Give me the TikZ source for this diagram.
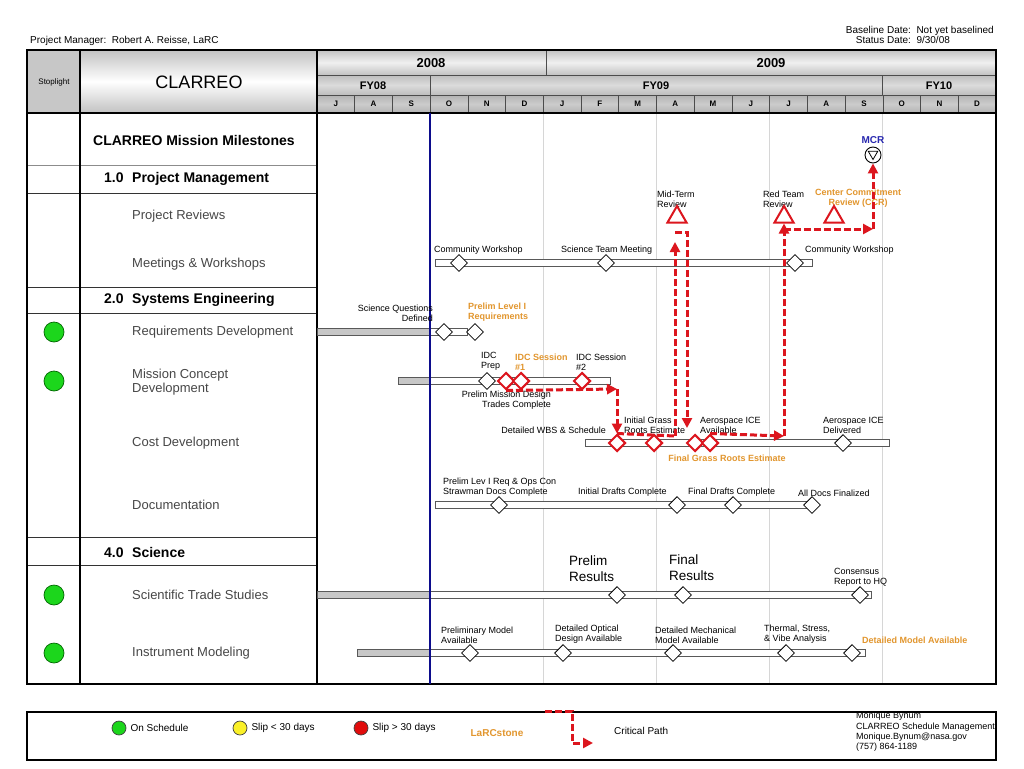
\documentclass[tikz,border=0pt]{standalone}
\usepackage{fontspec}
\setmainfont{Liberation Sans}
\usetikzlibrary{positioning, arrows.meta, shapes.geometric}

\definecolor{cpred}{RGB}{220,22,30}
\definecolor{larc}{RGB}{226,150,46}
\definecolor{statusblue}{RGB}{12,12,140}
\definecolor{mcrblue}{RGB}{40,40,175}
\definecolor{ongreen}{RGB}{28,214,28}
\definecolor{slipyellow}{RGB}{250,240,40}
\definecolor{slipred}{RGB}{225,12,12}

\tikzset{
    tbl/.style={draw=black, line width=1.4pt},
    rowline/.style={draw=black!80, line width=0.9pt},
    hdr/.style={draw=black!70, line width=0.6pt,
        top color=black!24, bottom color=black!24, middle color=black!6},
    hdrtxt/.style={font=\fontsize{13}{14}\selectfont\bfseries, inner sep=0pt},
    fytxt/.style={font=\fontsize{11}{12}\selectfont\bfseries, inner sep=0pt},
    montxt/.style={font=\fontsize{8}{9}\selectfont\bfseries, inner sep=0pt},
    sect/.style={font=\fontsize{14}{16}\selectfont\bfseries, anchor=west, inner sep=0pt},
    item/.style={font=\fontsize{13}{14.5}\selectfont, text=black!72,
        anchor=west, inner sep=0pt, align=left},
    light/.style={circle, draw=green!40!black, line width=0.7pt, fill=ongreen,
        minimum size=20pt, inner sep=0pt},
    dot/.style={circle, draw=black!75, line width=0.7pt, minimum size=14pt, inner sep=0pt},
    bar/.style={draw=black!65, line width=0.9pt, fill=white},
    donebar/.style={draw=black!65, line width=0.9pt, fill=black!22},
    gridline/.style={draw=black!16, line width=0.6pt},
    mstone/.style={diamond, draw=black, line width=0.8pt, fill=white,
        inner sep=0pt, minimum width=17pt, minimum height=17pt},
    cpstone/.style={mstone, draw=cpred, line width=2pt},
    review/.style={regular polygon, regular polygon sides=3, draw=cpred,
        line width=2pt, fill=white, inner sep=0pt, minimum size=22pt},
    lbl/.style={font=\fontsize{9}{10}\selectfont, inner sep=0pt, align=left,
        anchor=south west},
    lblo/.style={lbl, font=\fontsize{9}{10}\selectfont\bfseries, text=larc},
    bigl/.style={lbl, font=\fontsize{13.5}{16}\selectfont},
    note/.style={font=\fontsize{10}{12}\selectfont, inner sep=0pt},
    cp/.style={draw=cpred, line width=3pt, dash pattern=on 7pt off 3pt,
        -{Triangle[length=10pt, width=10pt]}},
    cpline/.style={draw=cpred, line width=3pt, dash pattern=on 7pt off 3pt},
}

\begin{document}
\begin{tikzpicture}[x=1pt, y=-1pt]
\useasboundingbox (0,0) rectangle (1024,768);
\fill[white] (0,0) rectangle (1024,768);

% ---- Top notes ----
\node[note, anchor=base west] (pm) at (30,44) {Project Manager:\ \ Robert A. Reisse, LaRC};
\node[note, anchor=north east] (dates) at (994,25)
    {\begin{tabular}{@{}r@{\ \ }l@{}}Baseline Date: & Not yet baselined\\[-2pt]
     Status Date: & 9/30/08\end{tabular}};

% ---- Header ----
\draw[hdr, fill=black!22, top color=black!22, bottom color=black!22, middle color=black!22]
    (27,50) rectangle (80,113);
\node[font=\fontsize{8}{9}\selectfont, inner sep=0pt] (stop) at (54,82) {Stoplight};
\draw[hdr, middle color=white] (80,50) rectangle (317,113);
\node[font=\fontsize{18}{20}\selectfont, inner sep=0pt] (title) at (199,82) {CLARREO};
\draw[hdr] (317,50) rectangle (546,75);
\draw[hdr] (546,50) rectangle (996,75);
\node[hdrtxt] (y08) at (431,63) {2008};
\node[hdrtxt] (y09) at (771,63) {2009};
\draw[hdr, top color=black!26, bottom color=black!26, middle color=black!14] (317,75) rectangle (430.1,95);
\draw[hdr, top color=black!26, bottom color=black!26, middle color=black!14] (430.1,75) rectangle (882.5,95);
\draw[hdr, top color=black!26, bottom color=black!26, middle color=black!14] (882.5,75) rectangle (996,95);
\node[fytxt] (fy08) at (373,86) {FY08};
\node[fytxt] (fy09) at (656,86) {FY09};
\node[fytxt] (fy10) at (939,86) {FY10};
\foreach \m [count=\i from 0] in {J,A,S,O,N,D,J,F,M,A,M,J,J,A,S,O,N,D} {
    \draw[hdr, top color=black!30, bottom color=black!30, middle color=black!20]
        ({317+\i*37.72},95) rectangle ({317+(\i+1)*37.72},113);
    \node[montxt] (m\i) at ({317+(\i+0.5)*37.72},104) {\m};
}

% ---- Grid and frame ----
\foreach \gx in {543.2,656.3,769.4,882.5}
    \draw[gridline] (\gx,113) -- (\gx,684);
\draw[rowline, draw=black!45, line width=0.6pt] (27,165) -- (317,165);
\foreach \yy in {193,287,313,537,565}
    \draw[rowline] (27,\yy) -- (317,\yy);
\draw[tbl] (80,50) -- (80,684);
\draw[tbl] (317,50) -- (317,684);
\draw[tbl] (27,113) -- (996,113);
\draw[tbl] (27,50) rectangle (996,684);

% ---- Row titles ----
\node[sect] (t-ms) at (93,140) {CLARREO Mission Milestones};
\node[sect] (t-pm) at (104,179) {\makebox[28pt][l]{1.0}Project Management};
\node[item] (t-rev) at (132,216) {Project Reviews};
\node[item] (t-mw) at (132,264) {Meetings \& Workshops};
\node[sect] (t-se) at (104,300) {\makebox[28pt][l]{2.0}Systems Engineering};
\node[item] (t-rq) at (132,332) {Requirements Development};
\node[item] (t-mc) at (132,382) {Mission Concept\\Development};
\node[item] (t-cd) at (132,443) {Cost Development};
\node[item] (t-dc) at (132,505) {Documentation};
\node[sect] (t-sc) at (104,552) {\makebox[28pt][l]{4.0}Science};
\node[item] (t-st) at (132,595) {Scientific Trade Studies};
\node[item] (t-im) at (132,653) {Instrument Modeling};

% ---- Stoplights ----
\foreach \yy/\nm in {332/rq, 381/mc, 595/st, 653/im}
    \node[light] (sl-\nm) at (54,\yy) {};

% ---- Bars ----
\draw[bar] (435,259) rectangle (812,266);
\draw[donebar] (317,328) rectangle (430,335);
\draw[bar] (430,328) rectangle (467,335);
\draw[donebar] (398,377) rectangle (430,384);
\draw[bar] (430,377) rectangle (610,384);
\draw[bar] (585,439) rectangle (889,446);
\draw[bar] (435,501) rectangle (812,508);
\draw[donebar] (317,591) rectangle (430,598);
\draw[bar] (430,591) rectangle (871,598);
\draw[donebar] (357,649) rectangle (430,656);
\draw[bar] (430,649) rectangle (865,656);

% ---- Status date ----
\draw[statusblue, line width=1.6pt] (430.1,113) -- (430.1,684);

% ---- Labels ----
\node[font=\fontsize{10}{12}\selectfont\bfseries, text=mcrblue, inner sep=0pt] (mcr-t) at (873,140) {MCR};
\node[lbl] (l-mt) at (657,208) {Mid-Term\\Review};
\node[lbl] (l-rt) at (763,208) {Red Team\\Review};
\node[lblo, align=center, anchor=south] (l-ccr) at (858,208) {Center Commitment\\Review (CCR)};
\node[lbl] (l-cw1) at (434,255) {Community Workshop};
\node[lbl] (l-stm) at (561,255) {Science Team Meeting};
\node[lbl] (l-cw2) at (805,255) {Community Workshop};
\node[lbl, align=right, anchor=south east] (l-sq) at (433,322) {Science Questions\\Defined};
\node[lblo] (l-pl) at (468,322) {Prelim Level I\\Requirements};
\node[lbl] (l-idc) at (481,371) {IDC\\Prep};
\node[lblo] (l-s1) at (515,371) {IDC Session\\\#1};
\node[lbl] (l-s2) at (576,371) {IDC Session\\\#2};
\node[lbl, align=right, anchor=north east] (l-pmd) at (551,391) {Prelim Mission Design\\Trades Complete};
\node[lbl, anchor=south east] (l-wbs) at (606,434) {Detailed WBS \& Schedule};
\node[lbl] (l-igr) at (624,434) {Initial Grass\\Roots Estimate};
\node[lbl] (l-ica) at (700,434) {Aerospace ICE\\Available};
\node[lbl] (l-icd) at (823,434) {Aerospace ICE\\Delivered};
\node[lblo, anchor=center] (l-fgr) at (727,458) {Final Grass Roots Estimate};
\node[lbl] (l-plr) at (443,497) {Prelim Lev I Req \& Ops Con\\Strawman Docs Complete};
\node[lbl] (l-idr) at (578,497) {Initial Drafts Complete};
\node[lbl] (l-fdr) at (688,497) {Final Drafts Complete};
\node[lbl] (l-adf) at (798,497) {All Docs Finalized};
\node[bigl] (l-pr) at (569,582) {Prelim\\Results};
\node[bigl] (l-fr) at (669,581) {Final\\Results};
\node[lbl] (l-crh) at (834,587) {Consensus\\Report to HQ};
\node[lbl] (l-pma) at (441,644) {Preliminary Model\\Available};
\node[lbl] (l-doa) at (555,644) {Detailed Optical\\Design Available};
\node[lbl] (l-dma) at (655,644) {Detailed Mechanical\\Model Available};
\node[lbl] (l-tsv) at (764,644) {Thermal, Stress,\\\& Vibe Analysis};
\node[lblo] (l-dmv) at (862,644) {Detailed Model Available};

% ---- Milestones ----
\node[circle, draw=black, line width=0.9pt, fill=white, minimum size=16pt, inner sep=0pt] (mcr) at (873,155) {};
\node[regular polygon, regular polygon sides=3, shape border rotate=180, draw=black,
    line width=0.8pt, minimum size=11pt, inner sep=0pt] (mcr-in) at (873,154) {};
\node[review] (rv1) at (677,217) {};
\node[review] (rv2) at (784,217) {};
\node[review] (rv3) at (834,217) {};
\node[mstone] (mw1) at (459,263) {};
\node[mstone] (mw2) at (606,263) {};
\node[mstone] (mw3) at (795,263) {};
\node[mstone] (rq1) at (444,332) {};
\node[mstone] (rq2) at (475,332) {};
\node[mstone] (mc1) at (487,381) {};
\node[cpstone] (mc2) at (506,381) {};
\node[cpstone] (mc3) at (521,381) {};
\node[cpstone] (mc4) at (582,381) {};
\node[cpstone] (cd1) at (617,443) {};
\node[cpstone] (cd2) at (654,443) {};
\node[cpstone] (cd3) at (695,443) {};
\node[cpstone] (cd4) at (710,443) {};
\node[mstone] (cd5) at (843,443) {};
\node[mstone] (dc1) at (499,505) {};
\node[mstone] (dc2) at (677,505) {};
\node[mstone] (dc3) at (733,505) {};
\node[mstone] (dc4) at (812,505) {};
\node[mstone] (st1) at (617,595) {};
\node[mstone] (st2) at (683,595) {};
\node[mstone] (st3) at (860,595) {};
\node[mstone] (im1) at (470,653) {};
\node[mstone] (im2) at (563,653) {};
\node[mstone] (im3) at (673,653) {};
\node[mstone] (im4) at (786,653) {};
\node[mstone] (im5) at (852,653) {};

% ---- Critical path ----
\coordinate (cpa) at (617,389);
\coordinate (cpb) at (675,436);
\coordinate (cpc) at (675,242);
\coordinate (cpd) at (675,232);
\coordinate (cpe) at (687,232);
\coordinate (cpf) at (687,428);
\coordinate (cpg) at (784,436);
\coordinate (cph) at (784,229);
\coordinate (cpi) at (873,229);
\draw[cp] (mc2.south) -- (cpa);
\draw[cp] (cpa) -- (cd1.north);
\draw[cpline] (cd1.north) -- (cpb);
\draw[cp] (cpb) -- (cpc);
\draw[cp] (cpd) -- (cpe) -- (cpf);
\draw[cp] (cd4.north) -- (cpg);
\draw[cp] (cpg) -- (rv2.south);
\draw[cp] (cph) -- (cpi);
\draw[cp] (cpi) -- (mcr.south);

% ---- Legend ----
\draw[tbl] (27,712) rectangle (996,760);
\node[dot, fill=ongreen] (lg-on) at (119,728) {};
\node[note, right=4pt of lg-on] (lg-ont) {On Schedule};
\node[dot, fill=slipyellow] (lg-y) at (240,728) {};
\node[note, right=4pt of lg-y] (lg-yt) {Slip < 30 days};
\node[dot, fill=slipred] (lg-r) at (361,728) {};
\node[note, right=4pt of lg-r] (lg-rt) {Slip > 30 days};
\node[note, font=\fontsize{10}{12}\selectfont\bfseries, text=larc] (lg-larc) at (497,733) {LaRCstone};
\coordinate (lg-a) at (545,711);
\coordinate (lg-b) at (572,711);
\coordinate (lg-c) at (572,743);
\coordinate (lg-d) at (593,743);
\draw[cp] (lg-a) -- (lg-b) -- (lg-c) -- (lg-d);
\node[note, anchor=west] (lg-cp) at (614,731) {Critical Path};
\node[note, font=\fontsize{9}{10.4}\selectfont, align=left, anchor=north west] (lg-who) at (856,712)
    {Monique Bynum\\CLARREO Schedule Management\\Monique.Bynum@nasa.gov\\(757) 864-1189};

\end{tikzpicture}
\end{document}
